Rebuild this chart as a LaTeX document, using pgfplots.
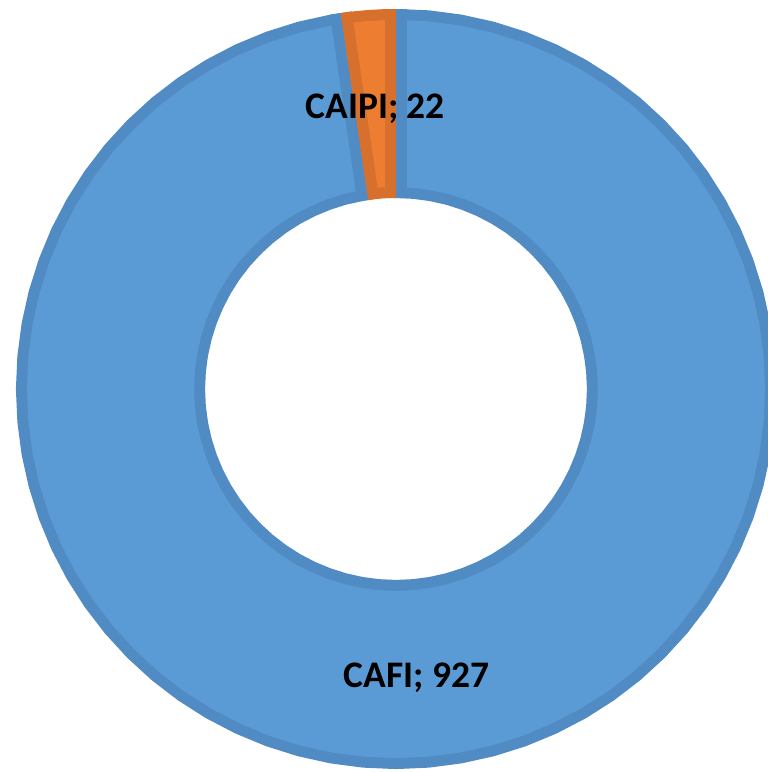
\documentclass[border=0pt]{standalone}
\usepackage{fontspec}
\setmainfont{Carlito}
\usepackage{pgfplots}
\usepackage{pgfplotstable}
\pgfplotsset{compat=1.18}

\definecolor{cafi}{RGB}{91,155,213}
\definecolor{cafiedge}{RGB}{80,139,196}
\definecolor{caipi}{RGB}{237,125,49}
\definecolor{caipiedge}{RGB}{214,112,44}

% slices: CAFI 927, CAIPI 22 (total 949), drawn clockwise from 12 o'clock
% angle (deg) and radius of the ring's middle line
\pgfplotstableread{
a r
90 285.5
89.95 285.5
85 285.5
80 285.5
75 285.5
70 285.5
65 285.5
60 285.5
55 285.5
50 285.5
45 285.5
40 285.5
35 285.5
30 285.5
25 285.5
20 285.5
15 285.5
10 285.5
5 285.5
0 285.5
-5 285.5
-10 285.5
-15 285.5
-20 285.5
-25 285.5
-30 285.5
-35 285.5
-40 285.5
-45 285.5
-50 285.5
-55 285.5
-60 285.5
-65 285.5
-70 285.5
-75 285.5
-80 285.5
-85 285.5
-90 285.5
-95 285.5
-100 285.5
-105 285.5
-110 285.5
-115 285.5
-120 285.5
-125 285.5
-130 285.5
-135 285.5
-140 285.5
-145 285.5
-150 285.5
-155 285.5
-160 285.5
-165 285.5
-170 285.5
-175 285.5
-180 285.5
-185 285.5
-190 285.5
-195 285.5
-200 285.5
-205 285.5
-210 285.5
-215 285.5
-220 285.5
-225 285.5
-230 285.5
-235 285.5
-240 285.5
-245 285.5
-250 285.5
-255 285.5
-260 285.5
-261.6044 285.5
-261.6544 285.5
}\cafi

\pgfplotstableread{
a r
90 285.5
90.05 285.5
92 285.5
94 285.5
96 285.5
98.2956 285.5
98.3456 285.5
}\caipi

\pgfplotsset{slicelabel/.style={data cs=polar, only marks, mark=none,
  point meta=none,
  nodes near coords align=center,
  nodes near coords style={font=\bfseries\fontsize{37.5}{45}\selectfont, text=black, yshift=-4pt}}}

\begin{document}
\begin{tikzpicture}
\begin{axis}[
x=1pt, y=1pt,
xmin=-396, xmax=372,
ymin=-383, ymax=389,
hide axis,
clip=true
]
% ring slices: edge colour first, inner colour on top
\addplot[data cs=polar, no markers, cafiedge, line width=189pt] table[x=a,y=r]{\cafi};
\addplot[data cs=polar, no markers, cafi, line width=167pt] table[x=a,y=r]{\cafi};
\addplot[data cs=polar, no markers, caipiedge, line width=189pt] table[x=a,y=r]{\caipi};
\addplot[data cs=polar, no markers, caipi, line width=167pt] table[x=a,y=r]{\caipi};

% edges along the two seams
\addplot[no markers, cafiedge, line width=11pt] coordinates {(5.5,191) (5.5,380)};
\addplot[no markers, caipiedge, line width=11pt] coordinates {(-5.5,191) (-5.5,380)};
\addplot[no markers, cafiedge, line width=11pt] coordinates {(-33.164,188.179) (-60.597,375.178)};
\addplot[no markers, caipiedge, line width=11pt] coordinates {(-22.280,189.775) (-49.713,376.774)};

% data labels at the middle of each slice
\addplot[slicelabel, nodes near coords={CAIPI; 22}] coordinates {(94.1728,285.5)};
\addplot[slicelabel, nodes near coords={CAFI; 927}] coordinates {(-85.8272,285.5)};
\end{axis}
\path (current axis.south west) rectangle (current axis.north east);
\end{tikzpicture}
\end{document}
